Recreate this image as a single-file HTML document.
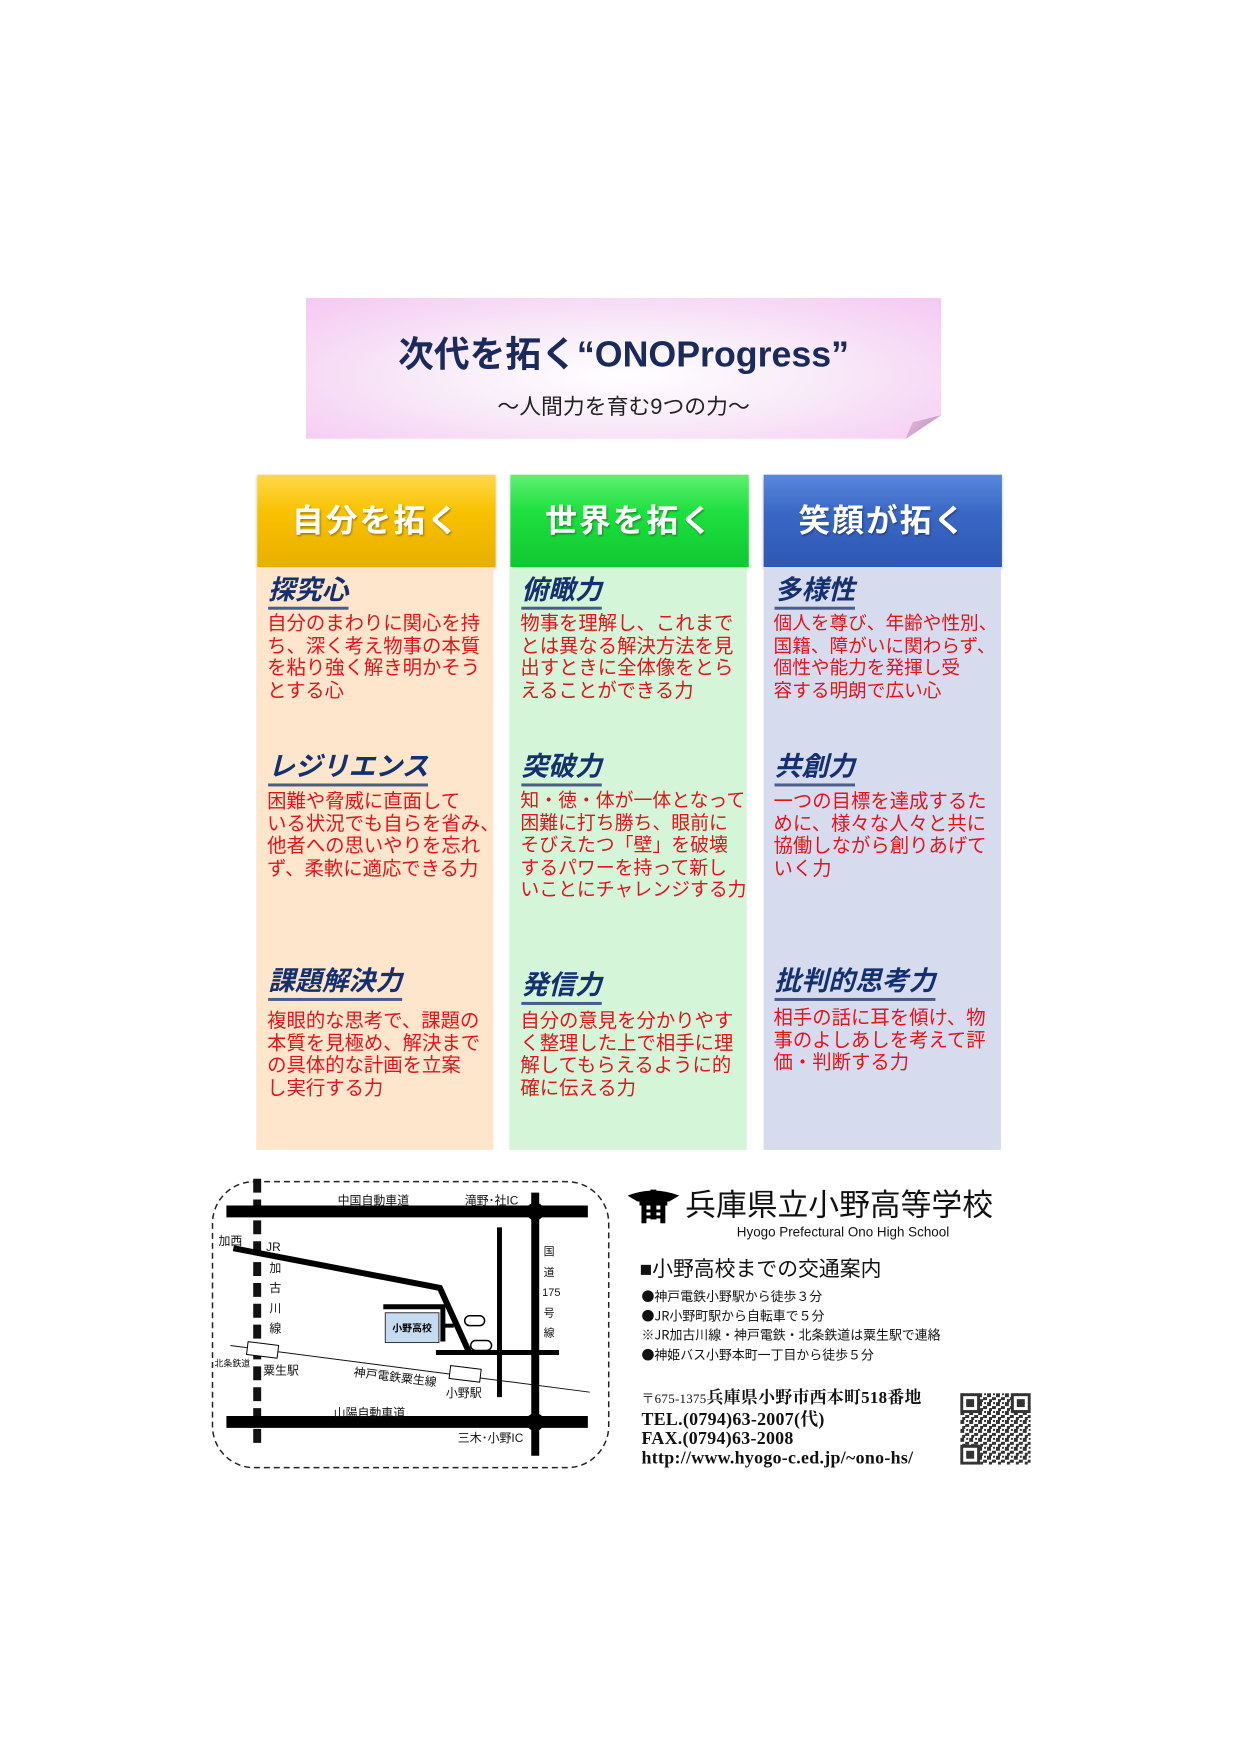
<!DOCTYPE html>
<html lang="ja"><head><meta charset="utf-8">
<style>
body{margin:0;background:#fff;}
#page{position:relative;width:1241px;height:1754px;overflow:hidden;background:#fff;font-family:"Liberation Sans","Noto Sans CJK JP",sans-serif;}
#inner{position:absolute;left:0;top:0;width:1241px;height:1754px;transform:scale(0.993);transform-origin:0 0;}
.abs{position:absolute;}
.hdr{position:absolute;top:478px;height:93px;color:#fff;font-weight:bold;font-size:32px;text-align:center;line-height:93px;text-shadow:1px 2px 2px rgba(0,0,0,.35);letter-spacing:2px;box-shadow:0 2px 3px rgba(0,0,0,.25);}
.panel{position:absolute;top:571px;height:587px;}
.ttl{position:absolute;font-size:27px;font-weight:bold;font-style:italic;color:#15306e;border-bottom:3px solid #4a5c8a;line-height:34px;white-space:nowrap;}
.txt{position:absolute;font-size:19.5px;color:#e0141c;line-height:22.6px;white-space:nowrap;}
.mp{position:absolute;font-size:12px;color:#111;white-space:nowrap;}
.bul{position:absolute;left:646px;font-size:13px;color:#111;white-space:nowrap;font-family:"Noto Sans CJK JP",sans-serif;line-height:19px;}
.adr{position:absolute;left:646px;font-family:"Liberation Serif","Noto Serif CJK SC",serif;font-size:18px;font-weight:bold;color:#111;white-space:nowrap;line-height:20px;letter-spacing:0.3px;}
</style></head>
<body>
<div id="page">
<div id="inner">

<div class="abs" style="left:308px;top:300px;width:640px;height:142px;background:radial-gradient(ellipse at 50% 55%,#ffffff 0%,#f8eaf8 45%,#f5c8f2 100%);clip-path:polygon(0 0,100% 0,100% 83%,94.5% 100%,0 100%);"></div>
<div class="abs" style="left:912px;top:418px;width:36px;height:24px;background:linear-gradient(135deg,#e8b8e4,#b890b0);clip-path:polygon(100% 0,0 100%,20% 30%);"></div>
<div class="abs" style="left:308px;top:334px;width:640px;text-align:center;font-size:36px;font-weight:bold;color:#1a2a5a;line-height:46px;">次代を拓く“ONOProgress”</div>
<div class="abs" style="left:308px;top:396px;width:640px;text-align:center;font-size:22px;color:#222;line-height:28px;">～人間力を育む9つの力～</div>

<div class="hdr" style="left:259px;width:240px;background:linear-gradient(#ffd84a,#f8c200 40%,#e8b000);">自分を拓く</div>
<div class="hdr" style="left:514px;width:240px;background:linear-gradient(#5ff070,#1ee040 40%,#10c830);">世界を拓く</div>
<div class="hdr" style="left:769px;width:240px;background:linear-gradient(#5a88dc,#3a68c6 40%,#2e58b4);">笑顔が拓く</div>

<div class="panel" style="left:258px;width:239px;background:#fde6cc;"></div>
<div class="panel" style="left:513px;width:239px;background:#d4f5d8;"></div>
<div class="panel" style="left:769px;width:239px;background:#d6dcee;"></div>

<div class="ttl" style="left:270px;top:577px;">探究心</div>
<div class="txt" style="left:269px;top:617px;">自分のまわりに関心を持<br>ち、深く考え物事の本質<br>を粘り強く解き明かそう<br>とする心</div>
<div class="ttl" style="left:270px;top:755px;">レジリエンス</div>
<div class="txt" style="left:269px;top:796px;">困難や脅威に直面して<br>いる状況でも自らを省み、<br>他者への思いやりを忘れ<br>ず、柔軟に適応できる力</div>
<div class="ttl" style="left:270px;top:971px;">課題解決力</div>
<div class="txt" style="left:269px;top:1017px;">複眼的な思考で、課題の<br>本質を見極め、解決まで<br>の具体的な計画を立案<br>し実行する力</div>

<div class="ttl" style="left:525px;top:577px;">俯瞰力</div>
<div class="txt" style="left:524px;top:617px;">物事を理解し、これまで<br>とは異なる解決方法を見<br>出すときに全体像をとら<br>えることができる力</div>
<div class="ttl" style="left:525px;top:755px;">突破力</div>
<div class="txt" style="left:524px;top:796px;font-size:19px;">知・徳・体が一体となって<br>困難に打ち勝ち、眼前に<br>そびえたつ「壁」を破壊<br>するパワーを持って新し<br>いことにチャレンジする力</div>
<div class="ttl" style="left:525px;top:975px;">発信力</div>
<div class="txt" style="left:524px;top:1017px;">自分の意見を分かりやす<br>く整理した上で相手に理<br>解してもらえるように的<br>確に伝える力</div>

<div class="ttl" style="left:780px;top:577px;">多様性</div>
<div class="txt" style="left:779px;top:617px;font-size:18.8px;">個人を尊び、年齢や性別、<br>国籍、障がいに関わらず、<br>個性や能力を発揮し受<br>容する明朗で広い心</div>
<div class="ttl" style="left:780px;top:755px;">共創力</div>
<div class="txt" style="left:779px;top:796px;">一つの目標を達成するた<br>めに、様々な人々と共に<br>協働しながら創りあげて<br>いく力</div>
<div class="ttl" style="left:780px;top:971px;">批判的思考力</div>
<div class="txt" style="left:779px;top:1014px;">相手の話に耳を傾け、物<br>事のよしあしを考えて評<br>価・判断する力</div>

<!-- map -->
<svg class="abs" style="left:0;top:0;" width="1241" height="1754">
<rect x="214" y="1190" width="399" height="288" rx="42" fill="none" stroke="#222" stroke-width="1.5" stroke-dasharray="6,4"/>
<line x1="232" y1="1355" x2="594" y2="1402" stroke="#111" stroke-width="1"/>
<line x1="259" y1="1187" x2="259" y2="1456" stroke="#111" stroke-width="8" stroke-dasharray="14,7"/>
<line x1="228" y1="1220" x2="592" y2="1220" stroke="#000" stroke-width="12"/>
<line x1="228" y1="1432" x2="592" y2="1432" stroke="#000" stroke-width="12"/>
<line x1="539" y1="1201" x2="539" y2="1466" stroke="#000" stroke-width="8"/>
<circle cx="539" cy="1220" r="9" fill="#000"/><circle cx="539" cy="1432" r="9" fill="#000"/>
<line x1="503" y1="1236" x2="503" y2="1407" stroke="#000" stroke-width="5"/>
<polyline points="235,1257 443,1297 473,1363" fill="none" stroke="#000" stroke-width="6"/>
<line x1="439" y1="1362" x2="563" y2="1362" stroke="#000" stroke-width="5"/>
<polyline points="386,1316 446,1316 446,1351" fill="none" stroke="#000" stroke-width="5"/>
<line x1="444" y1="1335" x2="457" y2="1335" stroke="#000" stroke-width="4"/>
<rect x="388" y="1322" width="54" height="30" fill="#c5dcf0" stroke="#333" stroke-width="1"/>
<text x="415" y="1341" font-size="10" font-weight="bold" text-anchor="middle" font-family="Liberation Sans,Noto Sans CJK JP,sans-serif">小野高校</text>
<rect x="468" y="1325" width="20" height="10" rx="5" fill="#fff" stroke="#000" stroke-width="1.5"/>
<rect x="474" y="1350" width="21" height="10" rx="5" fill="#fff" stroke="#000" stroke-width="1.5"/>
<g transform="rotate(7 265 1359)"><rect x="249" y="1353" width="31" height="13" fill="#fff" stroke="#000" stroke-width="1"/></g>
<g transform="rotate(7 468 1383)"><rect x="453" y="1377" width="31" height="13" fill="#fff" stroke="#000" stroke-width="1"/></g>
</svg>
<div class="mp" style="left:340px;top:1200px;">中国自動車道</div>
<div class="mp" style="left:468px;top:1200px;">滝野･社IC</div>
<div class="mp" style="left:220px;top:1241px;">加西</div>
<div class="mp" style="left:268px;top:1246px;line-height:20.5px;">JR<br>&nbsp;加<br>&nbsp;古<br>&nbsp;川<br>&nbsp;線</div>
<div class="mp" style="left:546px;top:1251px;line-height:20.5px;text-align:center;width:14px;font-size:11px;">国<br>道<br>175<br>号<br>線</div>
<div class="mp" style="left:216px;top:1366px;font-size:9px;">北条鉄道</div>
<div class="mp" style="left:265px;top:1371px;">粟生駅</div>
<div class="mp" style="left:356px;top:1378px;transform:rotate(7deg);">神戸電鉄粟生線</div>
<div class="mp" style="left:449px;top:1394px;">小野駅</div>
<div class="mp" style="left:336px;top:1414px;">山陽自動車道</div>
<div class="mp" style="left:461px;top:1439px;">三木･小野IC</div>

<!-- school info -->
<svg class="abs" style="left:630px;top:1196px;" width="56" height="36">
<path d="M2 8 Q28 -2 54 8 L44 14 L12 14 Z" fill="#000"/>
<rect x="14" y="14" width="28" height="4" fill="#000"/>
<rect x="16" y="18" width="5" height="18" fill="#000"/><rect x="35" y="18" width="5" height="18" fill="#000"/>
<rect x="25" y="2" width="6" height="30" fill="#000"/>
<rect x="20" y="22" width="16" height="3" fill="#000"/><rect x="20" y="28" width="16" height="3" fill="#000"/>
</svg>
<div class="abs" style="left:690px;top:1194px;font-size:31px;color:#111;white-space:nowrap;line-height:40px;">兵庫県立小野高等学校</div>
<div class="abs" style="left:742px;top:1233px;font-size:13.5px;color:#111;white-space:nowrap;">Hyogo Prefectural Ono High School</div>
<div class="abs" style="left:644px;top:1262px;font-size:21px;color:#111;white-space:nowrap;">■小野高校までの交通案内</div>
<div class="bul" style="top:1295px;">●神戸電鉄小野駅から徒歩３分</div>
<div class="bul" style="top:1315px;">●JR小野町駅から自転車で５分</div>
<div class="bul" style="top:1334px;">※JR加古川線・神戸電鉄・北条鉄道は粟生駅で連絡</div>
<div class="bul" style="top:1354px;">●神姫バス小野本町一丁目から徒歩５分</div>
<div class="adr" style="top:1398px;font-size:17px;"><span style="font-size:13px;font-weight:normal;">〒675-1375</span>兵庫県小野市西本町518番地</div>
<div class="adr" style="top:1419px;">TEL.(0794)63-2007(代)</div>
<div class="adr" style="top:1438px;">FAX.(0794)63-2008</div>
<div class="adr" style="top:1458px;">http://www.hyogo-c.ed.jp/~ono-hs/</div>

<svg class="abs" style="left:967px;top:1403px;" width="71" height="72">
<defs><pattern id="qp" width="9" height="9" patternUnits="userSpaceOnUse">
<rect width="9" height="9" fill="#fff"/><rect x="0" y="0" width="4" height="4" fill="#333"/><rect x="5" y="4" width="4" height="3" fill="#333"/><rect x="2" y="6" width="3" height="3" fill="#333"/><rect x="6" y="0" width="2" height="2" fill="#333"/></pattern></defs>
<rect width="71" height="72" fill="url(#qp)"/>
<g fill="#333"><rect x="0" y="0" width="20" height="20"/><rect x="51" y="0" width="20" height="20"/><rect x="0" y="52" width="20" height="20"/></g>
<g fill="#fff"><rect x="3" y="3" width="14" height="14"/><rect x="54" y="3" width="14" height="14"/><rect x="3" y="55" width="14" height="14"/></g>
<g fill="#333"><rect x="6" y="6" width="8" height="8"/><rect x="57" y="6" width="8" height="8"/><rect x="6" y="58" width="8" height="8"/></g>
</svg>
</div>
</div>
</body></html>
